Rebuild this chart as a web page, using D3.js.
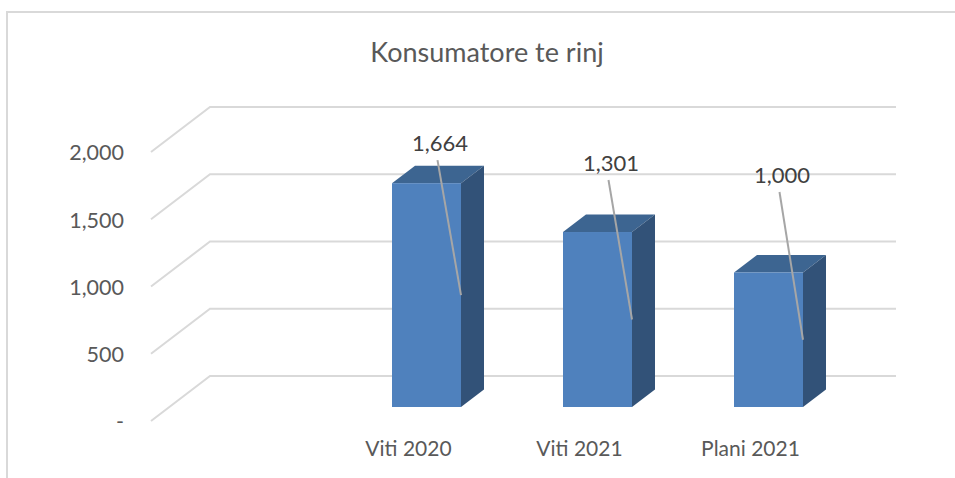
<!DOCTYPE html>
<html>
<head>
  <meta charset="utf-8">
  <title>Konsumatore te rinj</title>
  <script src="https://cdn.jsdelivr.net/npm/d3@7"></script>
  <style>
    html, body { margin:0; padding:0; background:#fff; }
    svg { display:block; }
    text { font-family:Lato, "Open Sans", sans-serif; }
    .axis path, .axis line { display:none; }
    .axis text { font-size:21.5px; fill:#595959; font-family:Lato, "Open Sans", sans-serif; }
    .xaxis text { font-size:21px; }
    .lbl { font-size:22px; fill:#404040; text-anchor:middle; }
    .title { font-size:27px; fill:#595959; text-anchor:middle; }
  </style>
</head>
<body>
<svg id="chart" width="955" height="478"></svg>
<script>
const categories = ["Viti 2020", "Viti 2021", "Plani 2021"];
const values = [1664, 1301, 1000];
const ticks = [0, 500, 1000, 1500, 2000];
const title = "Konsumatore te rinj";

// hand placed label heights, the original has them dragged away from the bars
const labelLift = [40, 69, 97.5];

const W = 955, H = 478;
const depth = { x: 23, y: 17.5 };     // bar depth
const wall = { dx: 59, front: 14, back: 31 }; // grid offset from the bar base plane

const svg = d3.select("#chart");
const y = d3.scaleLinear().domain([0, 2000]).range([407, 138]);
const x = d3.scaleBand().domain(categories).range([392, 803]).paddingInner(102 / 171).paddingOuter(0);
const val = i => values[i];

// frame, open on the right and at the bottom
svg.append("path")
  .attr("d", d3.line()([[7, H], [7, 12], [W, 12]]))
  .attr("fill", "none").attr("stroke", "#d9d9d9").attr("stroke-width", 2);

svg.append("text").attr("class", "title")
  .attr("x", 487).attr("y", 62).text(title);

// grid: slanted side wall plus back wall
const gridX0 = 151, gridX1 = 896;
svg.append("g").selectAll("path").data(ticks).enter().append("path")
  .attr("d", t => d3.line()([
    [gridX0, y(t) + wall.front],
    [gridX0 + wall.dx, y(t) - wall.back],
    [gridX1, y(t) - wall.back]
  ]))
  .attr("fill", "none").attr("stroke", "#d9d9d9").attr("stroke-width", 2);

// y axis
const yAxis = d3.axisLeft(y).tickValues(ticks).tickSize(0).tickPadding(0)
  .tickFormat(t => t === 0 ? "-" : d3.format(",")(t));
svg.append("g").attr("class", "axis")
  .attr("transform", "translate(124,15)")
  .call(yAxis);

// x axis, labels sit left of the bars like in the 3d original
const xAxis = d3.axisBottom(x).tickSize(0).tickPadding(0);
svg.append("g").attr("class", "axis xaxis")
  .attr("transform", "translate(-18,441)")
  .call(xAxis);

// bars
const bars = svg.append("g").selectAll("g").data(d3.range(values.length)).enter().append("g");
bars.append("path") // top face
  .attr("d", i => {
    const a = x(categories[i]), b = a + x.bandwidth(), t = y(val(i));
    return d3.line()([[a, t], [a + depth.x, t - depth.y], [b + depth.x, t - depth.y], [b, t]]) + "Z";
  })
  .attr("fill", "#3d6591");
bars.append("path") // side face
  .attr("d", i => {
    const b = x(categories[i]) + x.bandwidth(), t = y(val(i)), z = y(0);
    return d3.line()([[b, t], [b + depth.x, t - depth.y], [b + depth.x, z - depth.y], [b, z]]) + "Z";
  })
  .attr("fill", "#325278");
bars.append("rect") // front
  .attr("x", i => x(categories[i]))
  .attr("y", i => y(val(i)))
  .attr("width", x.bandwidth())
  .attr("height", i => y(0) - y(val(i)))
  .attr("fill", "#4f81bd");

// leader lines run from the label to the middle of the bar edge
bars.append("line")
  .attr("x1", i => x(categories[i]) + 45.5)
  .attr("y1", i => y(val(i)) - labelLift[i] + 17)
  .attr("x2", i => x(categories[i]) + x.bandwidth())
  .attr("y2", i => y(val(i) / 2))
  .attr("stroke", "#a6a6a6").attr("stroke-width", 2);

bars.append("text").attr("class", "lbl")
  .attr("x", i => x(categories[i]) + 48)
  .attr("y", i => y(val(i)) - labelLift[i] + 8)
  .text(i => d3.format(",")(val(i)));
</script>
</body>
</html>
